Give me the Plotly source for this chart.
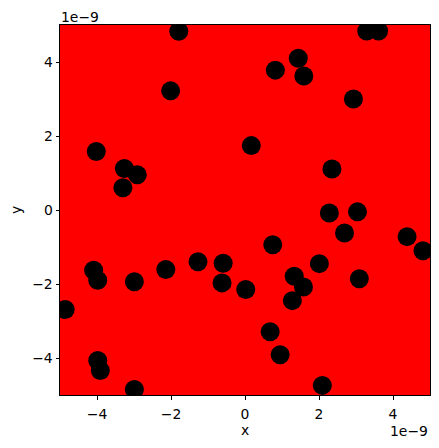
import plotly.graph_objects as go

SCALE = 1e-9  # axis offset shown as "1e−9"

# point coordinates in units of 1e-9
x_vals = [-1.79, -2.01, -4.02, -3.26, -2.91, -3.30, 3.29, 3.61, 1.44, 0.82,
          1.59, 2.93, 0.17, 2.35, -4.86, -4.09, -3.98, -2.99, -2.14, -1.27,
          -0.59, -0.62, 0.02, -3.98, -3.91, -2.99, 2.28, 3.04, 2.69, 4.38,
          4.81, 0.75, 2.01, 1.33, 1.58, 3.09, 1.28, 0.68, 0.95, 2.09]
y_vals = [4.83, 3.22, 1.58, 1.12, 0.95, 0.60, 4.84, 4.84, 4.10, 3.78,
          3.62, 3.00, 1.74, 1.11, -2.69, -1.63, -1.90, -1.94, -1.61, -1.40,
          -1.44, -1.97, -2.15, -4.07, -4.34, -4.85, -0.08, -0.05, -0.62, -0.72,
          -1.10, -0.94, -1.45, -1.79, -2.08, -1.86, -2.45, -3.29, -3.91, -4.74]

tick_vals = [-4, -2, 0, 2, 4]
tick_text = ["\u22124", "\u22122", "0", "2", "4"]

FONT = "DejaVu Sans"
FS = 13.9

fig = go.Figure()
fig.add_trace(go.Scatter(
    x=x_vals, y=y_vals, mode="markers",
    marker=dict(color="black", size=19, line=dict(width=0)),
    cliponaxis=True, showlegend=False, hoverinfo="skip",
))

axis_common = dict(
    showgrid=False, zeroline=False, showline=True, linecolor="black", linewidth=1,
    mirror=True, ticks="outside", ticklen=3.5, tickwidth=1, tickcolor="black",
    tickvals=tick_vals, ticktext=tick_text, automargin=False,
    tickfont=dict(family=FONT, size=FS, color="black"),
)

# page body has an 8px default margin, so the figure is sized/offset to compensate
fig.update_layout(
    width=431, height=440,
    margin=dict(l=52, r=9, t=17, b=53, autoexpand=False),
    paper_bgcolor="white", plot_bgcolor="#ff0000",
    font=dict(family=FONT, size=FS, color="black"),
    xaxis=dict(range=[-5, 5], ticklabelstandoff=3,
               title=dict(text="x", font=dict(family=FONT, size=FS), standoff=4), **axis_common),
    yaxis=dict(range=[-5, 5],
               title=dict(text="y", font=dict(family=FONT, size=FS), standoff=8), **axis_common),
    annotations=[
        dict(text="1e\u22129", xref="paper", yref="paper", x=0, y=1, xanchor="left", yanchor="bottom",
             showarrow=False, font=dict(family=FONT, size=FS), xshift=-1, yshift=-2),
        dict(text="1e\u22129", xref="paper", yref="paper", x=1, y=0, xanchor="right", yanchor="top",
             showarrow=False, font=dict(family=FONT, size=FS), yshift=-26),
    ],
)

fig.write_html("out.html")
